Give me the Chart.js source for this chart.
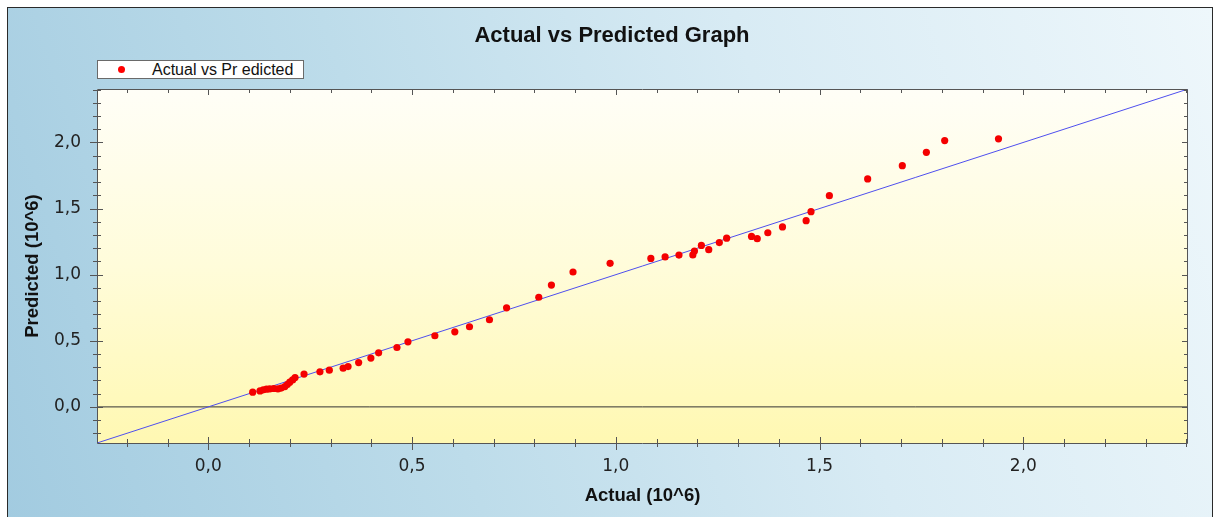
<!DOCTYPE html>
<html>
<head>
<meta charset="utf-8">
<script src="https://cdn.jsdelivr.net/npm/chart.js@4.4.0/dist/chart.umd.min.js"></script>
<style>
html,body{margin:0;padding:0;background:#fff;width:1214px;height:517px;overflow:hidden;}
#frame{position:absolute;left:7px;top:7px;width:1204px;height:520px;border:1px solid #2a2a2a;
  background:linear-gradient(72deg,#a2cbe0 0%,#bddcea 35%,#d8ebf4 65%,#eef7fb 100%);}
#c{position:absolute;left:0;top:0;}
#title{position:absolute;left:0;width:1224px;top:22px;line-height:24px;text-align:center;
  font:bold 22px "Liberation Sans",Arial,sans-serif;color:#111;}
#legend{position:absolute;left:97px;top:60px;width:205px;height:17px;border:1px solid #6a6a6a;background:#fff;
  font:16px "Liberation Sans",Arial,sans-serif;color:#111;}
#legend .dot{position:absolute;left:20px;top:5px;width:7px;height:7px;border-radius:50%;background:#f00;}
#legend .txt{position:absolute;left:54px;top:0px;line-height:17px;white-space:pre;}
</style>
</head>
<body>
<div id="frame"></div>
<canvas id="c" width="1214" height="517"></canvas>
<div id="title">Actual vs Predicted Graph</div>
<div id="legend"><span class="dot"></span><span class="txt">Actual vs Pr edicted</span></div>
<script>
// ---- data (values in 10^6) ----
const actual = [0.109,0.127,0.135,0.143,0.151,0.161,0.171,0.179,0.188,0.194,0.200,0.207,0.213,0.235,0.274,0.297,
  0.331,0.343,0.369,0.399,0.418,0.463,0.490,0.556,0.605,0.641,0.690,0.732,0.811,0.842,0.895,0.986,
  1.086,1.121,1.155,1.189,1.193,1.210,1.228,1.254,1.272,1.333,1.347,1.373,1.409,1.467,1.479,1.524,
  1.618,1.703,1.762,1.807,1.939];
const predicted = [0.111,0.121,0.129,0.134,0.136,0.139,0.136,0.142,0.154,0.169,0.187,0.204,0.222,0.248,0.265,0.278,
  0.293,0.305,0.335,0.369,0.409,0.449,0.492,0.538,0.568,0.606,0.659,0.749,0.829,0.921,1.020,1.086,
  1.123,1.134,1.148,1.149,1.179,1.221,1.189,1.243,1.276,1.289,1.272,1.317,1.361,1.408,1.476,1.597,
  1.724,1.824,1.925,2.014,2.027];
const tickValues = [0, 0.5, 1.0, 1.5, 2.0];
const tickLabels = ['0,0', '0,5', '1,0', '1,5', '2,0'];
const axisMin = -0.273, axisMax = 2.404;
const minorStep = 0.1;

const plotBg = {
  id: 'plotBg',
  beforeDraw(chart) {
    const {ctx, chartArea: a} = chart;
    const g = ctx.createLinearGradient(0, a.top, 0, a.bottom);
    g.addColorStop(0, '#fffef7');
    g.addColorStop(0.5, '#fffcda');
    g.addColorStop(1, '#fff8b2');
    ctx.save();
    ctx.fillStyle = g;
    ctx.fillRect(a.left, a.top, a.right - a.left, a.bottom - a.top);
    ctx.restore();
  }
};

const frameTicks = {
  id: 'frameTicks',
  afterDatasetsDraw(chart) {
    const {ctx, chartArea: a, scales: {x, y}} = chart;
    ctx.save();
    ctx.strokeStyle = '#555';
    ctx.lineWidth = 1;
    ctx.beginPath();
    const kMin = Math.ceil(axisMin / minorStep), kMax = Math.floor(axisMax / minorStep);
    for (let k = kMin; k <= kMax; k++) {
      const v = k * minorStep;
      const major = k % 5 === 0;
      const inn = major ? 6 : 4, out = major ? 7 : 4;
      const px = Math.round(x.getPixelForValue(v)) + 0.5;
      if (px > a.left + 1 && px < a.right - 1) {
        ctx.moveTo(px, a.bottom + out); ctx.lineTo(px, a.bottom - inn);
        ctx.moveTo(px, a.top); ctx.lineTo(px, a.top + inn);
      }
      const py = Math.round(y.getPixelForValue(v)) + 0.5;
      if (py > a.top + 1 && py < a.bottom - 1) {
        ctx.moveTo(a.left - out, py); ctx.lineTo(a.left + inn, py);
        ctx.moveTo(a.right, py); ctx.lineTo(a.right - inn, py);
      }
    }
    ctx.rect(a.left + 0.5, a.top + 0.5, a.right - a.left - 1, a.bottom - a.top);
    ctx.stroke();
    ctx.restore();
  }
};

const fmt = v => { const i = tickValues.indexOf(v); return i >= 0 ? tickLabels[i] : ''; };
const setTicks = s => { s.ticks = tickValues.map(v => ({value: v})); };

new Chart(document.getElementById('c'), {
  type: 'scatter',
  data: {
    datasets: [
      {
        label: 'Actual vs Pr edicted',
        data: actual.map((a, i) => ({x: a, y: predicted[i]})),
        pointRadius: 3.6,
        pointHoverRadius: 3.6,
        backgroundColor: '#f40000',
        borderWidth: 0,
        showLine: false
      },
      {
        label: 'ideal',
        data: [{x: axisMin, y: axisMin}, {x: axisMax, y: axisMax}],
        showLine: true,
        borderColor: '#4f4fee',
        borderWidth: 1,
        pointRadius: 0
      },
      {
        label: 'zero',
        data: [{x: axisMin, y: 0}, {x: axisMax, y: 0}],
        showLine: true,
        borderColor: '#333',
        borderWidth: 1,
        pointRadius: 0
      }
    ]
  },
  options: {
    responsive: false,
    animation: false,
    devicePixelRatio: 1,
    layout: {padding: {left: 0, right: 26, top: 89, bottom: 0}},
    plugins: {legend: {display: false}, tooltip: {enabled: false}, title: {display: false}},
    events: [],
    scales: {
      x: {
        type: 'linear', min: axisMin, max: axisMax,
        afterBuildTicks: setTicks,
        afterFit: s => { s.height = 74; },
        grid: {display: false, drawTicks: false}, border: {display: false},
        ticks: {callback: fmt, font: {family: 'DejaVu Sans', size: 17}, color: '#222', padding: 13, maxRotation: 0, autoSkip: false},
        title: {display: true, text: 'Actual (10^6)', color: '#111',
          font: {family: 'Liberation Sans', size: 18.5, weight: 'bold'}, padding: {top: 0, bottom: 10}}
      },
      y: {
        type: 'linear', min: axisMin, max: axisMax,
        afterBuildTicks: setTicks,
        afterFit: s => { s.width = 97; },
        grid: {display: false, drawTicks: false}, border: {display: false},
        ticks: {callback: fmt, font: {family: 'DejaVu Sans', size: 17}, color: '#222', padding: 16, autoSkip: false},
        title: {display: true, text: 'Predicted (10^6)', color: '#111',
          font: {family: 'Liberation Sans', size: 18.5, weight: 'bold'}, padding: {top: 22, bottom: 0}}
      }
    }
  },
  plugins: [plotBg, frameTicks]
});
</script>
</body>
</html>
